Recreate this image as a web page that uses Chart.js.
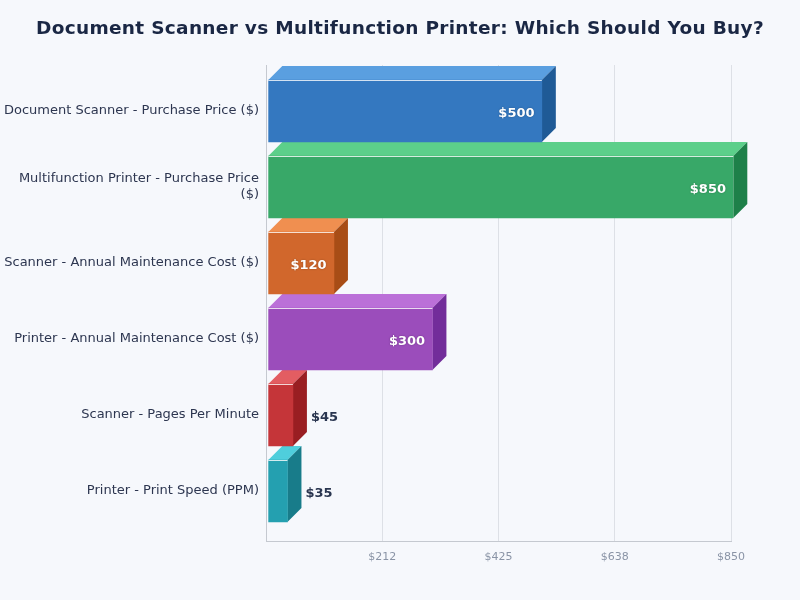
<!DOCTYPE html>
<html>
<head>
<meta charset="utf-8">
<title>Document Scanner vs Multifunction Printer</title>
<script src="https://cdn.jsdelivr.net/npm/chart.js@4"></script>
<style>
    html, body { margin: 0; padding: 0; background: #f6f8fc; }
    canvas { display: block; }
</style>
</head>
<body>
<canvas id="barGraph" width="800" height="600"></canvas>
<script>
const categories = [
    "Document Scanner - Purchase Price ($)",
    ["Multifunction Printer - Purchase Price", "($)"],
    "Scanner - Annual Maintenance Cost ($)",
    "Printer - Annual Maintenance Cost ($)",
    "Scanner - Pages Per Minute",
    "Printer - Print Speed (PPM)"
];
const values = [500, 850, 120, 300, 45, 35];
const valueLabels = ["$500", "$850", "$120", "$300", "$45", "$35"];
const xTickValues = [212.5, 425, 637.5, 850];
const xTickLabels = ["$212", "$425", "$638", "$850"];

const frontColors = ['#3478c0', '#38a868', '#d1672c', '#9b4dbb', '#c53539', '#24a0b0'];
const topColors = ['#5a9fe0', '#5ccf8a', '#f08f50', '#bb70d8', '#e35d62', '#4fcedc'];
const sideColors = ['#1f5a96', '#1e8049', '#a84d16', '#722d9a', '#991e22', '#187c8a'];

const depth = 14;
const barShift = 2.3;
const font = "'DejaVu Sans', sans-serif";

// top and side faces go behind the normal bars, everything moved a bit off the axis
const bar3d = {
    id: 'bar3d',
    afterLayout(chart) {
        // title is centred on the page, not on the padded box, and spaced out a little
        const title = chart.titleBlock;
        title.left = 0;
        title.right = chart.width;
        const drawTitle = title.draw;
        title.draw = function () {
            chart.ctx.letterSpacing = '0.3px';
            drawTitle.call(title);
            chart.ctx.letterSpacing = '0px';
        };
    },
    beforeDatasetDraw(chart) {
        const ctx = chart.ctx;
        ctx.save();
        ctx.translate(barShift, 0);
        chart.getDatasetMeta(0).data.forEach((bar, i) => {
            const top = bar.y - bar.height / 2;
            const bottom = bar.y + bar.height / 2;
            ctx.fillStyle = topColors[i];
            ctx.beginPath();
            ctx.moveTo(bar.base, top);
            ctx.lineTo(bar.base + depth, top - depth);
            ctx.lineTo(bar.x + depth, top - depth);
            ctx.lineTo(bar.x, top);
            ctx.closePath();
            ctx.fill();
            ctx.fillStyle = sideColors[i];
            ctx.beginPath();
            ctx.moveTo(bar.x, top);
            ctx.lineTo(bar.x + depth, top - depth);
            ctx.lineTo(bar.x + depth, bottom - depth);
            ctx.lineTo(bar.x, bottom);
            ctx.closePath();
            ctx.fill();
        });
    },
    afterDatasetDraw(chart) {
        const ctx = chart.ctx;
        chart.getDatasetMeta(0).data.forEach((bar) => {
            const top = bar.y - bar.height / 2;
            ctx.fillStyle = 'rgba(255,255,255,0.8)';
            ctx.fillRect(bar.base, top, bar.x - bar.base, 1);
        });
        ctx.restore();
    },
    afterDatasetsDraw(chart) {
        const ctx = chart.ctx;
        ctx.save();
        ctx.font = "bold 13px " + font;
        ctx.textBaseline = 'middle';
        chart.getDatasetMeta(0).data.forEach((bar, i) => {
            const end = bar.x + barShift;
            if (values[i] >= 100) {
                ctx.shadowColor = 'rgba(0,0,0,0.3)';
                ctx.shadowBlur = 2;
                ctx.fillStyle = '#ffffff';
                ctx.textAlign = 'right';
                ctx.fillText(valueLabels[i], end - 7.3, bar.y + 3);
            } else {
                ctx.shadowBlur = 0;
                ctx.fillStyle = '#2a3650';
                ctx.textAlign = 'left';
                ctx.fillText(valueLabels[i], end + 18, bar.y + 3);
            }
        });
        ctx.restore();
    }
};

document.addEventListener('DOMContentLoaded', () => {
    const ctx = document.getElementById("barGraph").getContext("2d");
    new Chart(ctx, {
        type: 'bar',
        data: {
            datasets: [{
                data: values.map((v, i) => ({ x: v, y: i })),
                backgroundColor: frontColors,
                barThickness: 62
            }]
        },
        options: {
            indexAxis: 'y',
            responsive: false,
            animation: false,
            layout: { padding: { top: 0, right: 69, bottom: 0, left: 0 } },
            plugins: {
                legend: { display: false },
                tooltip: { enabled: false },
                title: {
                    display: true,
                    text: 'Document Scanner vs Multifunction Printer: Which Should You Buy?',
                    color: '#1a2744',
                    font: { family: font, size: 18.5, weight: 'bold' },
                    padding: { top: 18, bottom: 24.8 }
                }
            },
            scales: {
                x: {
                    type: 'linear',
                    min: 0,
                    max: 850,
                    afterBuildTicks: (axis) => { axis.ticks = xTickValues.map(v => ({ value: v })); },
                    afterFit: (axis) => { axis.height = 59; },
                    ticks: {
                        color: '#8a94a6',
                        font: { family: font, size: 11 },
                        maxRotation: 0,
                        padding: 10,
                        callback: (v, i) => xTickLabels[i]
                    },
                    grid: { color: '#dde0e6', drawTicks: false },
                    border: { color: '#c5c9d0' }
                },
                y: {
                    type: 'linear',
                    reverse: true,
                    offset: false,
                    min: -0.605,
                    max: 5.658,
                    afterBuildTicks: (axis) => { axis.ticks = categories.map((c, i) => ({ value: i })); },
                    afterFit: (axis) => { axis.width = 266; },
                    ticks: {
                        color: '#2d3650',
                        font: { family: font, size: 13, lineHeight: 1.25 },
                        padding: 7,
                        callback: (v, i) => categories[i]
                    },
                    grid: { display: false, drawTicks: false, offset: false },
                    border: { color: '#c5c9d0' }
                }
            }
        },
        plugins: [bar3d]
    });
});
</script>
</body>
</html>
